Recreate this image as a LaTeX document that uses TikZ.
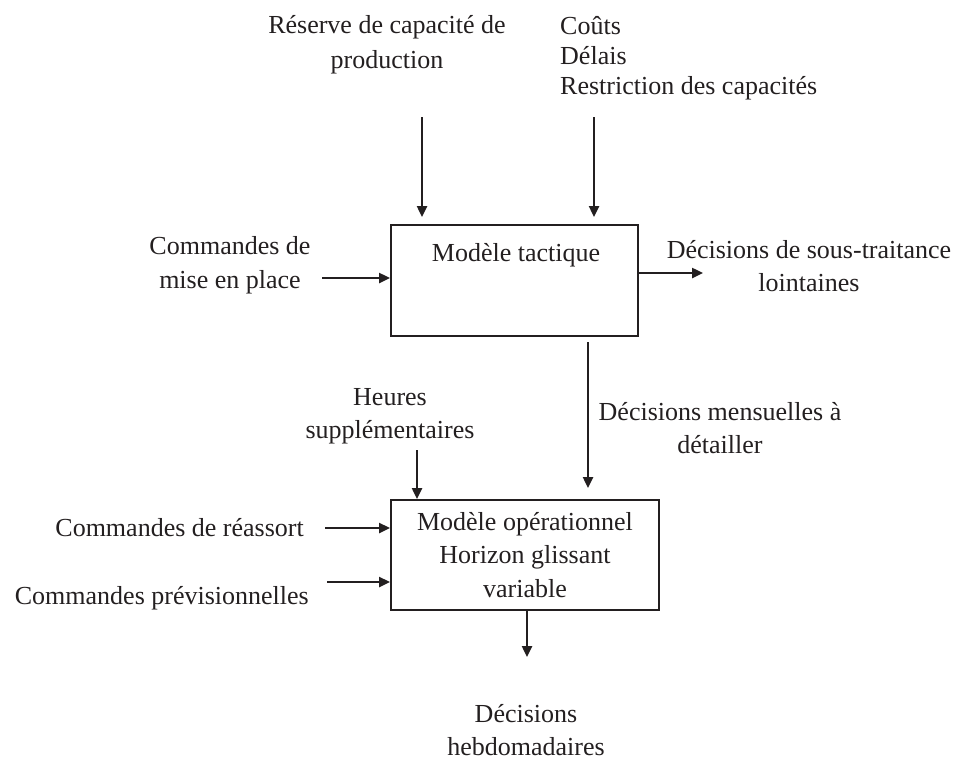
\documentclass[tikz,border=0pt]{standalone}
\usepackage{fontspec}
\setmainfont{Liberation Serif}
\usetikzlibrary{arrows.meta}
\definecolor{ink}{HTML}{231F20}
\tikzset{
  txt/.style={font=\fontsize{26}{33.5}\selectfont, text=ink, inner sep=0pt, align=center},
  boxnode/.style={draw=ink, line width=2pt, rectangle, inner sep=0pt},
  flow/.style={draw=ink, line width=2.4pt, -{Triangle[length=11pt,width=10pt]}},
}
\begin{document}
\begin{tikzpicture}[x=1pt,y=-1pt]
\useasboundingbox (0,0) rectangle (958,761);
% boxes
\node[boxnode, minimum width=247pt, minimum height=111pt] (b1) at (514.5,280.5) {};
\node[txt] (b1lab) at (516,255) {Modèle tactique};
\node[boxnode, txt, minimum width=268pt, minimum height=110pt] (b2) at (525,555)
  {Modèle opérationnel\\Horizon glissant\\variable};
% texts
\node[txt, font=\fontsize{26}{35}\selectfont] (reserve) at (387,45) {Réserve de capacité de\\production};
\node[txt, font=\fontsize{26}{30}\selectfont, align=left, anchor=west] (couts) at (560,58) {Coûts\\Délais\\Restriction des capacités};
\node[txt] (miseplace) at (230,265) {Commandes de\\mise en place};
\node[txt] (soustrait) at (809,266) {Décisions de sous-traitance\\lointaines};
\node[txt] (mensuel) at (720,428) {Décisions mensuelles à\\détailler};
\node[txt] (heures) at (390,416) {Heures\\supplémentaires};
\node[txt, anchor=east] (reassort) at (304,528) {Commandes de réassort};
\node[txt, anchor=east] (previs) at (309,598) {Commandes prévisionnelles};
\node[txt] (hebdo) at (526,730) {Décisions\\hebdomadaires};
% free ends
\coordinate (t1) at (422,117);
\coordinate (t1e) at (422,217);
\coordinate (t2) at (594,117);
\coordinate (t2e) at (594,217);
\coordinate (mp) at (322,278);
\coordinate (outS) at (703,273);
\coordinate (dnS) at (588,342);
\coordinate (dnE) at (588,488);
\coordinate (hs) at (417,450);
\coordinate (ra) at (325,528);
\coordinate (pv) at (327,582);
\coordinate (bot) at (527,657);
% connectors
\draw[flow] (t1) -- (t1e);
\draw[flow] (t2) -- (t2e);
\draw[flow] (mp) -- (mp -| b1.west);
\draw[flow] (outS -| b1.east) -- (outS);
\draw[flow] (dnS) -- (dnE);
\draw[flow] (hs) -- (hs |- b2.north);
\draw[flow] (ra) -- (ra -| b2.west);
\draw[flow] (pv) -- (pv -| b2.west);
\draw[flow] (bot |- b2.south) -- (bot);
\end{tikzpicture}
\end{document}
